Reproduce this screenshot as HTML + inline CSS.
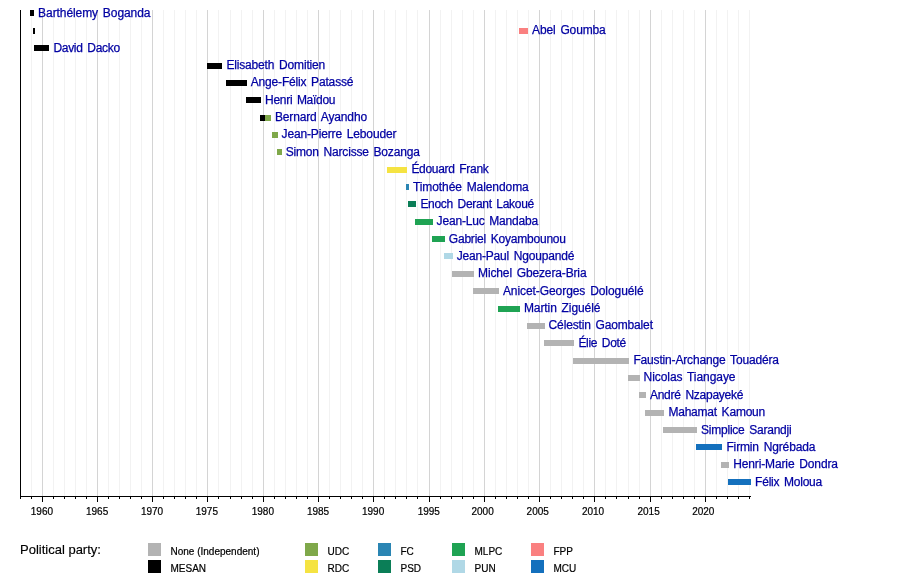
<!DOCTYPE html>
<html lang="fr"><head><meta charset="utf-8"><title>Timeline</title>
<style>html,body{margin:0;padding:0;background:#fff}svg{display:block}text{font-family:"Liberation Sans",sans-serif}</style></head><body>
<svg width="900" height="576" viewBox="0 0 900 576">
<rect width="900" height="576" fill="#fff"/>
<g shape-rendering="crispEdges"><line x1="31.50" y1="10.0" x2="31.50" y2="496.5" stroke="#f2f2f2" stroke-width="1"/><line x1="42.50" y1="10.0" x2="42.50" y2="496.5" stroke="#d4d4d4" stroke-width="1"/><line x1="53.50" y1="10.0" x2="53.50" y2="496.5" stroke="#f2f2f2" stroke-width="1"/><line x1="64.50" y1="10.0" x2="64.50" y2="496.5" stroke="#f2f2f2" stroke-width="1"/><line x1="75.50" y1="10.0" x2="75.50" y2="496.5" stroke="#f2f2f2" stroke-width="1"/><line x1="86.50" y1="10.0" x2="86.50" y2="496.5" stroke="#f2f2f2" stroke-width="1"/><line x1="97.50" y1="10.0" x2="97.50" y2="496.5" stroke="#d4d4d4" stroke-width="1"/><line x1="108.50" y1="10.0" x2="108.50" y2="496.5" stroke="#f2f2f2" stroke-width="1"/><line x1="119.50" y1="10.0" x2="119.50" y2="496.5" stroke="#f2f2f2" stroke-width="1"/><line x1="130.50" y1="10.0" x2="130.50" y2="496.5" stroke="#f2f2f2" stroke-width="1"/><line x1="141.50" y1="10.0" x2="141.50" y2="496.5" stroke="#f2f2f2" stroke-width="1"/><line x1="152.50" y1="10.0" x2="152.50" y2="496.5" stroke="#d4d4d4" stroke-width="1"/><line x1="163.50" y1="10.0" x2="163.50" y2="496.5" stroke="#f2f2f2" stroke-width="1"/><line x1="174.50" y1="10.0" x2="174.50" y2="496.5" stroke="#f2f2f2" stroke-width="1"/><line x1="185.50" y1="10.0" x2="185.50" y2="496.5" stroke="#f2f2f2" stroke-width="1"/><line x1="196.50" y1="10.0" x2="196.50" y2="496.5" stroke="#f2f2f2" stroke-width="1"/><line x1="207.50" y1="10.0" x2="207.50" y2="496.5" stroke="#d4d4d4" stroke-width="1"/><line x1="218.50" y1="10.0" x2="218.50" y2="496.5" stroke="#f2f2f2" stroke-width="1"/><line x1="230.50" y1="10.0" x2="230.50" y2="496.5" stroke="#f2f2f2" stroke-width="1"/><line x1="241.50" y1="10.0" x2="241.50" y2="496.5" stroke="#f2f2f2" stroke-width="1"/><line x1="252.50" y1="10.0" x2="252.50" y2="496.5" stroke="#f2f2f2" stroke-width="1"/><line x1="263.50" y1="10.0" x2="263.50" y2="496.5" stroke="#d4d4d4" stroke-width="1"/><line x1="274.50" y1="10.0" x2="274.50" y2="496.5" stroke="#f2f2f2" stroke-width="1"/><line x1="285.50" y1="10.0" x2="285.50" y2="496.5" stroke="#f2f2f2" stroke-width="1"/><line x1="296.50" y1="10.0" x2="296.50" y2="496.5" stroke="#f2f2f2" stroke-width="1"/><line x1="307.50" y1="10.0" x2="307.50" y2="496.5" stroke="#f2f2f2" stroke-width="1"/><line x1="318.50" y1="10.0" x2="318.50" y2="496.5" stroke="#d4d4d4" stroke-width="1"/><line x1="329.50" y1="10.0" x2="329.50" y2="496.5" stroke="#f2f2f2" stroke-width="1"/><line x1="340.50" y1="10.0" x2="340.50" y2="496.5" stroke="#f2f2f2" stroke-width="1"/><line x1="351.50" y1="10.0" x2="351.50" y2="496.5" stroke="#f2f2f2" stroke-width="1"/><line x1="362.50" y1="10.0" x2="362.50" y2="496.5" stroke="#f2f2f2" stroke-width="1"/><line x1="373.50" y1="10.0" x2="373.50" y2="496.5" stroke="#d4d4d4" stroke-width="1"/><line x1="384.50" y1="10.0" x2="384.50" y2="496.5" stroke="#f2f2f2" stroke-width="1"/><line x1="395.50" y1="10.0" x2="395.50" y2="496.5" stroke="#f2f2f2" stroke-width="1"/><line x1="406.50" y1="10.0" x2="406.50" y2="496.5" stroke="#f2f2f2" stroke-width="1"/><line x1="417.50" y1="10.0" x2="417.50" y2="496.5" stroke="#f2f2f2" stroke-width="1"/><line x1="429.50" y1="10.0" x2="429.50" y2="496.5" stroke="#d4d4d4" stroke-width="1"/><line x1="440.50" y1="10.0" x2="440.50" y2="496.5" stroke="#f2f2f2" stroke-width="1"/><line x1="451.50" y1="10.0" x2="451.50" y2="496.5" stroke="#f2f2f2" stroke-width="1"/><line x1="462.50" y1="10.0" x2="462.50" y2="496.5" stroke="#f2f2f2" stroke-width="1"/><line x1="473.50" y1="10.0" x2="473.50" y2="496.5" stroke="#f2f2f2" stroke-width="1"/><line x1="484.50" y1="10.0" x2="484.50" y2="496.5" stroke="#d4d4d4" stroke-width="1"/><line x1="495.50" y1="10.0" x2="495.50" y2="496.5" stroke="#f2f2f2" stroke-width="1"/><line x1="506.50" y1="10.0" x2="506.50" y2="496.5" stroke="#f2f2f2" stroke-width="1"/><line x1="517.50" y1="10.0" x2="517.50" y2="496.5" stroke="#f2f2f2" stroke-width="1"/><line x1="528.50" y1="10.0" x2="528.50" y2="496.5" stroke="#f2f2f2" stroke-width="1"/><line x1="539.50" y1="10.0" x2="539.50" y2="496.5" stroke="#d4d4d4" stroke-width="1"/><line x1="550.50" y1="10.0" x2="550.50" y2="496.5" stroke="#f2f2f2" stroke-width="1"/><line x1="561.50" y1="10.0" x2="561.50" y2="496.5" stroke="#f2f2f2" stroke-width="1"/><line x1="572.50" y1="10.0" x2="572.50" y2="496.5" stroke="#f2f2f2" stroke-width="1"/><line x1="583.50" y1="10.0" x2="583.50" y2="496.5" stroke="#f2f2f2" stroke-width="1"/><line x1="594.50" y1="10.0" x2="594.50" y2="496.5" stroke="#d4d4d4" stroke-width="1"/><line x1="605.50" y1="10.0" x2="605.50" y2="496.5" stroke="#f2f2f2" stroke-width="1"/><line x1="616.50" y1="10.0" x2="616.50" y2="496.5" stroke="#f2f2f2" stroke-width="1"/><line x1="628.50" y1="10.0" x2="628.50" y2="496.5" stroke="#f2f2f2" stroke-width="1"/><line x1="639.50" y1="10.0" x2="639.50" y2="496.5" stroke="#f2f2f2" stroke-width="1"/><line x1="650.50" y1="10.0" x2="650.50" y2="496.5" stroke="#d4d4d4" stroke-width="1"/><line x1="661.50" y1="10.0" x2="661.50" y2="496.5" stroke="#f2f2f2" stroke-width="1"/><line x1="672.50" y1="10.0" x2="672.50" y2="496.5" stroke="#f2f2f2" stroke-width="1"/><line x1="683.50" y1="10.0" x2="683.50" y2="496.5" stroke="#f2f2f2" stroke-width="1"/><line x1="694.50" y1="10.0" x2="694.50" y2="496.5" stroke="#f2f2f2" stroke-width="1"/><line x1="705.50" y1="10.0" x2="705.50" y2="496.5" stroke="#d4d4d4" stroke-width="1"/><line x1="716.50" y1="10.0" x2="716.50" y2="496.5" stroke="#f2f2f2" stroke-width="1"/><line x1="727.50" y1="10.0" x2="727.50" y2="496.5" stroke="#f2f2f2" stroke-width="1"/><line x1="738.50" y1="10.0" x2="738.50" y2="496.5" stroke="#f2f2f2" stroke-width="1"/><line x1="749.50" y1="10.0" x2="749.50" y2="496.5" stroke="#f2f2f2" stroke-width="1"/></g>
<rect x="30" y="10" width="4" height="6" fill="#000000"/>
<text x="38.1" y="17" font-size="12" word-spacing="1.6" textLength="112.38" lengthAdjust="spacing" fill="#0000a2" stroke="#0000a2" stroke-width="0.25">Barthélemy Boganda</text>
<rect x="33" y="28" width="2" height="6" fill="#000000"/>
<rect x="519" y="28" width="9" height="6" fill="#fa8080"/>
<text x="532.1" y="34" font-size="12" word-spacing="1.6" textLength="73.69" lengthAdjust="spacing" fill="#0000a2" stroke="#0000a2" stroke-width="0.25">Abel Goumba</text>
<rect x="34" y="45" width="15" height="6" fill="#000000"/>
<text x="53.4" y="52" font-size="12" word-spacing="1.6" textLength="66.73" lengthAdjust="spacing" fill="#0000a2" stroke="#0000a2" stroke-width="0.25">David Dacko</text>
<rect x="207" y="63" width="15" height="6" fill="#000000"/>
<text x="226.4" y="69" font-size="12" word-spacing="1.6" textLength="98.86" lengthAdjust="spacing" fill="#0000a2" stroke="#0000a2" stroke-width="0.25">Elisabeth Domitien</text>
<rect x="226" y="80" width="21" height="6" fill="#000000"/>
<text x="250.7" y="86" font-size="12" word-spacing="1.6" textLength="102.76" lengthAdjust="spacing" fill="#0000a2" stroke="#0000a2" stroke-width="0.25">Ange-Félix Patassé</text>
<rect x="246" y="97" width="15" height="6" fill="#000000"/>
<text x="265.1" y="104" font-size="12" word-spacing="1.6" textLength="70.35" lengthAdjust="spacing" fill="#0000a2" stroke="#0000a2" stroke-width="0.25">Henri Maïdou</text>
<rect x="260" y="115" width="6" height="6" fill="#000000"/>
<rect x="265" y="115" width="6" height="6" fill="#7fa84a"/>
<text x="274.9" y="121" font-size="12" word-spacing="1.6" textLength="92.23" lengthAdjust="spacing" fill="#0000a2" stroke="#0000a2" stroke-width="0.25">Bernard Ayandho</text>
<rect x="272" y="132" width="6" height="6" fill="#7fa84a"/>
<text x="281.6" y="138" font-size="12" word-spacing="1.6" textLength="114.88" lengthAdjust="spacing" fill="#0000a2" stroke="#0000a2" stroke-width="0.25">Jean-Pierre Lebouder</text>
<rect x="277" y="149" width="5" height="6" fill="#7fa84a"/>
<text x="285.7" y="156" font-size="12" word-spacing="1.6" textLength="134.13" lengthAdjust="spacing" fill="#0000a2" stroke="#0000a2" stroke-width="0.25">Simon Narcisse Bozanga</text>
<rect x="387" y="167" width="20" height="6" fill="#f5e342"/>
<text x="411.4" y="173" font-size="12" word-spacing="1.6" textLength="77.39" lengthAdjust="spacing" fill="#0000a2" stroke="#0000a2" stroke-width="0.25">Édouard Frank</text>
<rect x="406" y="184" width="3" height="6" fill="#2a85b3"/>
<text x="412.9" y="191" font-size="12" word-spacing="1.6" textLength="115.83" lengthAdjust="spacing" fill="#0000a2" stroke="#0000a2" stroke-width="0.25">Timothée Malendoma</text>
<rect x="408" y="201" width="8" height="6" fill="#0b7e57"/>
<text x="420.4" y="208" font-size="12" word-spacing="1.6" textLength="113.79" lengthAdjust="spacing" fill="#0000a2" stroke="#0000a2" stroke-width="0.25">Enoch Derant Lakoué</text>
<rect x="415" y="219" width="18" height="6" fill="#1fa353"/>
<text x="436.6" y="225" font-size="12" word-spacing="1.6" textLength="101.55" lengthAdjust="spacing" fill="#0000a2" stroke="#0000a2" stroke-width="0.25">Jean-Luc Mandaba</text>
<rect x="432" y="236" width="13" height="6" fill="#1fa353"/>
<text x="448.8" y="243" font-size="12" word-spacing="1.6" textLength="117.22" lengthAdjust="spacing" fill="#0000a2" stroke="#0000a2" stroke-width="0.25">Gabriel Koyambounou</text>
<rect x="444" y="253" width="9" height="6" fill="#b0d8e6"/>
<text x="456.7" y="260" font-size="12" word-spacing="1.6" textLength="117.64" lengthAdjust="spacing" fill="#0000a2" stroke="#0000a2" stroke-width="0.25">Jean-Paul Ngoupandé</text>
<rect x="452" y="271" width="22" height="6" fill="#b3b3b3"/>
<text x="478.1" y="277" font-size="12" word-spacing="1.6" textLength="108.47" lengthAdjust="spacing" fill="#0000a2" stroke="#0000a2" stroke-width="0.25">Michel Gbezera-Bria</text>
<rect x="473" y="288" width="26" height="6" fill="#b3b3b3"/>
<text x="502.9" y="295" font-size="12" word-spacing="1.6" textLength="140.75" lengthAdjust="spacing" fill="#0000a2" stroke="#0000a2" stroke-width="0.25">Anicet-Georges Dologuélé</text>
<rect x="498" y="306" width="22" height="6" fill="#1fa353"/>
<text x="523.9" y="312" font-size="12" word-spacing="1.6" textLength="76.53" lengthAdjust="spacing" fill="#0000a2" stroke="#0000a2" stroke-width="0.25">Martin Ziguélé</text>
<rect x="527" y="323" width="18" height="6" fill="#b3b3b3"/>
<text x="548.6" y="329" font-size="12" word-spacing="1.6" textLength="104.39" lengthAdjust="spacing" fill="#0000a2" stroke="#0000a2" stroke-width="0.25">Célestin Gaombalet</text>
<rect x="544" y="340" width="30" height="6" fill="#b3b3b3"/>
<text x="578.4" y="347" font-size="12" word-spacing="1.6" textLength="47.9" lengthAdjust="spacing" fill="#0000a2" stroke="#0000a2" stroke-width="0.25">Élie Doté</text>
<rect x="573" y="358" width="56" height="6" fill="#b3b3b3"/>
<text x="633.4" y="364" font-size="12" word-spacing="1.6" textLength="145.57" lengthAdjust="spacing" fill="#0000a2" stroke="#0000a2" stroke-width="0.25">Faustin-Archange Touadéra</text>
<rect x="628" y="375" width="12" height="6" fill="#b3b3b3"/>
<text x="643.6" y="381" font-size="12" word-spacing="1.6" textLength="91.89" lengthAdjust="spacing" fill="#0000a2" stroke="#0000a2" stroke-width="0.25">Nicolas Tiangaye</text>
<rect x="639" y="392" width="7" height="6" fill="#b3b3b3"/>
<text x="649.9" y="399" font-size="12" word-spacing="1.6" textLength="93.59" lengthAdjust="spacing" fill="#0000a2" stroke="#0000a2" stroke-width="0.25">André Nzapayeké</text>
<rect x="645" y="410" width="19" height="6" fill="#b3b3b3"/>
<text x="668.4" y="416" font-size="12" word-spacing="1.6" textLength="96.86" lengthAdjust="spacing" fill="#0000a2" stroke="#0000a2" stroke-width="0.25">Mahamat Kamoun</text>
<rect x="663" y="427" width="34" height="6" fill="#b3b3b3"/>
<text x="701.1" y="434" font-size="12" word-spacing="1.6" textLength="90.52" lengthAdjust="spacing" fill="#0000a2" stroke="#0000a2" stroke-width="0.25">Simplice Sarandji</text>
<rect x="696" y="444" width="26" height="6" fill="#1470bd"/>
<text x="726.4" y="451" font-size="12" word-spacing="1.6" textLength="89.08" lengthAdjust="spacing" fill="#0000a2" stroke="#0000a2" stroke-width="0.25">Firmin Ngrébada</text>
<rect x="721" y="462" width="8" height="6" fill="#b3b3b3"/>
<text x="733.2" y="468" font-size="12" word-spacing="1.6" textLength="104.78" lengthAdjust="spacing" fill="#0000a2" stroke="#0000a2" stroke-width="0.25">Henri-Marie Dondra</text>
<rect x="728" y="479" width="23" height="6" fill="#1470bd"/>
<text x="755.1" y="486" font-size="12" word-spacing="1.6" textLength="67.13" lengthAdjust="spacing" fill="#0000a2" stroke="#0000a2" stroke-width="0.25">Félix Moloua</text>
<rect x="20" y="10" width="1" height="487" fill="#000"/>
<rect x="20" y="496" width="731" height="1" fill="#000"/>
<g><rect x="20" y="497" width="1" height="2" fill="#000"/><rect x="31" y="497" width="1" height="2" fill="#000"/><rect x="42" y="497" width="1" height="5" fill="#000"/><text x="41.95" y="515" font-size="10" text-anchor="middle" fill="#000" stroke="#000" stroke-width="0.2">1960</text><rect x="53" y="497" width="1" height="2" fill="#000"/><rect x="64" y="497" width="1" height="2" fill="#000"/><rect x="75" y="497" width="1" height="2" fill="#000"/><rect x="86" y="497" width="1" height="2" fill="#000"/><rect x="97" y="497" width="1" height="5" fill="#000"/><text x="97.08" y="515" font-size="10" text-anchor="middle" fill="#000" stroke="#000" stroke-width="0.2">1965</text><rect x="108" y="497" width="1" height="2" fill="#000"/><rect x="119" y="497" width="1" height="2" fill="#000"/><rect x="130" y="497" width="1" height="2" fill="#000"/><rect x="141" y="497" width="1" height="2" fill="#000"/><rect x="152" y="497" width="1" height="5" fill="#000"/><text x="152.01" y="515" font-size="10" text-anchor="middle" fill="#000" stroke="#000" stroke-width="0.2">1970</text><rect x="163" y="497" width="1" height="2" fill="#000"/><rect x="174" y="497" width="1" height="2" fill="#000"/><rect x="185" y="497" width="1" height="2" fill="#000"/><rect x="196" y="497" width="1" height="2" fill="#000"/><rect x="207" y="497" width="1" height="5" fill="#000"/><text x="206.84" y="515" font-size="10" text-anchor="middle" fill="#000" stroke="#000" stroke-width="0.2">1975</text><rect x="218" y="497" width="1" height="2" fill="#000"/><rect x="230" y="497" width="1" height="2" fill="#000"/><rect x="241" y="497" width="1" height="2" fill="#000"/><rect x="252" y="497" width="1" height="2" fill="#000"/><rect x="263" y="497" width="1" height="5" fill="#000"/><text x="262.87" y="515" font-size="10" text-anchor="middle" fill="#000" stroke="#000" stroke-width="0.2">1980</text><rect x="274" y="497" width="1" height="2" fill="#000"/><rect x="285" y="497" width="1" height="2" fill="#000"/><rect x="296" y="497" width="1" height="2" fill="#000"/><rect x="307" y="497" width="1" height="2" fill="#000"/><rect x="318" y="497" width="1" height="5" fill="#000"/><text x="318.00" y="515" font-size="10" text-anchor="middle" fill="#000" stroke="#000" stroke-width="0.2">1985</text><rect x="329" y="497" width="1" height="2" fill="#000"/><rect x="340" y="497" width="1" height="2" fill="#000"/><rect x="351" y="497" width="1" height="2" fill="#000"/><rect x="362" y="497" width="1" height="2" fill="#000"/><rect x="373" y="497" width="1" height="5" fill="#000"/><text x="373.13" y="515" font-size="10" text-anchor="middle" fill="#000" stroke="#000" stroke-width="0.2">1990</text><rect x="384" y="497" width="1" height="2" fill="#000"/><rect x="395" y="497" width="1" height="2" fill="#000"/><rect x="406" y="497" width="1" height="2" fill="#000"/><rect x="417" y="497" width="1" height="2" fill="#000"/><rect x="429" y="497" width="1" height="5" fill="#000"/><text x="428.76" y="515" font-size="10" text-anchor="middle" fill="#000" stroke="#000" stroke-width="0.2">1995</text><rect x="440" y="497" width="1" height="2" fill="#000"/><rect x="451" y="497" width="1" height="2" fill="#000"/><rect x="462" y="497" width="1" height="2" fill="#000"/><rect x="473" y="497" width="1" height="2" fill="#000"/><rect x="484" y="497" width="1" height="5" fill="#000"/><text x="482.59" y="515" font-size="10" text-anchor="middle" fill="#000" stroke="#000" stroke-width="0.2">2000</text><rect x="495" y="497" width="1" height="2" fill="#000"/><rect x="506" y="497" width="1" height="2" fill="#000"/><rect x="517" y="497" width="1" height="2" fill="#000"/><rect x="528" y="497" width="1" height="2" fill="#000"/><rect x="539" y="497" width="1" height="5" fill="#000"/><text x="537.72" y="515" font-size="10" text-anchor="middle" fill="#000" stroke="#000" stroke-width="0.2">2005</text><rect x="550" y="497" width="1" height="2" fill="#000"/><rect x="561" y="497" width="1" height="2" fill="#000"/><rect x="572" y="497" width="1" height="2" fill="#000"/><rect x="583" y="497" width="1" height="2" fill="#000"/><rect x="594" y="497" width="1" height="5" fill="#000"/><text x="593.05" y="515" font-size="10" text-anchor="middle" fill="#000" stroke="#000" stroke-width="0.2">2010</text><rect x="605" y="497" width="1" height="2" fill="#000"/><rect x="616" y="497" width="1" height="2" fill="#000"/><rect x="628" y="497" width="1" height="2" fill="#000"/><rect x="639" y="497" width="1" height="2" fill="#000"/><rect x="650" y="497" width="1" height="5" fill="#000"/><text x="648.58" y="515" font-size="10" text-anchor="middle" fill="#000" stroke="#000" stroke-width="0.2">2015</text><rect x="661" y="497" width="1" height="2" fill="#000"/><rect x="672" y="497" width="1" height="2" fill="#000"/><rect x="683" y="497" width="1" height="2" fill="#000"/><rect x="694" y="497" width="1" height="2" fill="#000"/><rect x="705" y="497" width="1" height="5" fill="#000"/><text x="703.31" y="515" font-size="10" text-anchor="middle" fill="#000" stroke="#000" stroke-width="0.2">2020</text><rect x="716" y="497" width="1" height="2" fill="#000"/><rect x="727" y="497" width="1" height="2" fill="#000"/><rect x="738" y="497" width="1" height="2" fill="#000"/><rect x="749" y="497" width="1" height="2" fill="#000"/></g>
<text x="20" y="554" font-size="13" fill="#000" stroke="#000" stroke-width="0.15">Political party:</text>
<rect x="148" y="543" width="13" height="13" fill="#b3b3b3"/>
<text x="170.5" y="555" font-size="10" fill="#000" stroke="#000" stroke-width="0.2">None (Independent)</text>
<rect x="148" y="560" width="13" height="13" fill="#000000"/>
<text x="170.5" y="572" font-size="10" fill="#000" stroke="#000" stroke-width="0.2">MESAN</text>
<rect x="305" y="543" width="13" height="13" fill="#7fa84a"/>
<text x="327.5" y="555" font-size="10" fill="#000" stroke="#000" stroke-width="0.2">UDC</text>
<rect x="305" y="560" width="13" height="13" fill="#f5e342"/>
<text x="327.5" y="572" font-size="10" fill="#000" stroke="#000" stroke-width="0.2">RDC</text>
<rect x="378" y="543" width="13" height="13" fill="#2a85b3"/>
<text x="400.5" y="555" font-size="10" fill="#000" stroke="#000" stroke-width="0.2">FC</text>
<rect x="378" y="560" width="13" height="13" fill="#0b7e57"/>
<text x="400.5" y="572" font-size="10" fill="#000" stroke="#000" stroke-width="0.2">PSD</text>
<rect x="452" y="543" width="13" height="13" fill="#1fa353"/>
<text x="474.5" y="555" font-size="10" fill="#000" stroke="#000" stroke-width="0.2">MLPC</text>
<rect x="452" y="560" width="13" height="13" fill="#b0d8e6"/>
<text x="474.5" y="572" font-size="10" fill="#000" stroke="#000" stroke-width="0.2">PUN</text>
<rect x="531" y="543" width="13" height="13" fill="#fa8080"/>
<text x="553.5" y="555" font-size="10" fill="#000" stroke="#000" stroke-width="0.2">FPP</text>
<rect x="531" y="560" width="13" height="13" fill="#1470bd"/>
<text x="553.5" y="572" font-size="10" fill="#000" stroke="#000" stroke-width="0.2">MCU</text>
</svg></body></html>
